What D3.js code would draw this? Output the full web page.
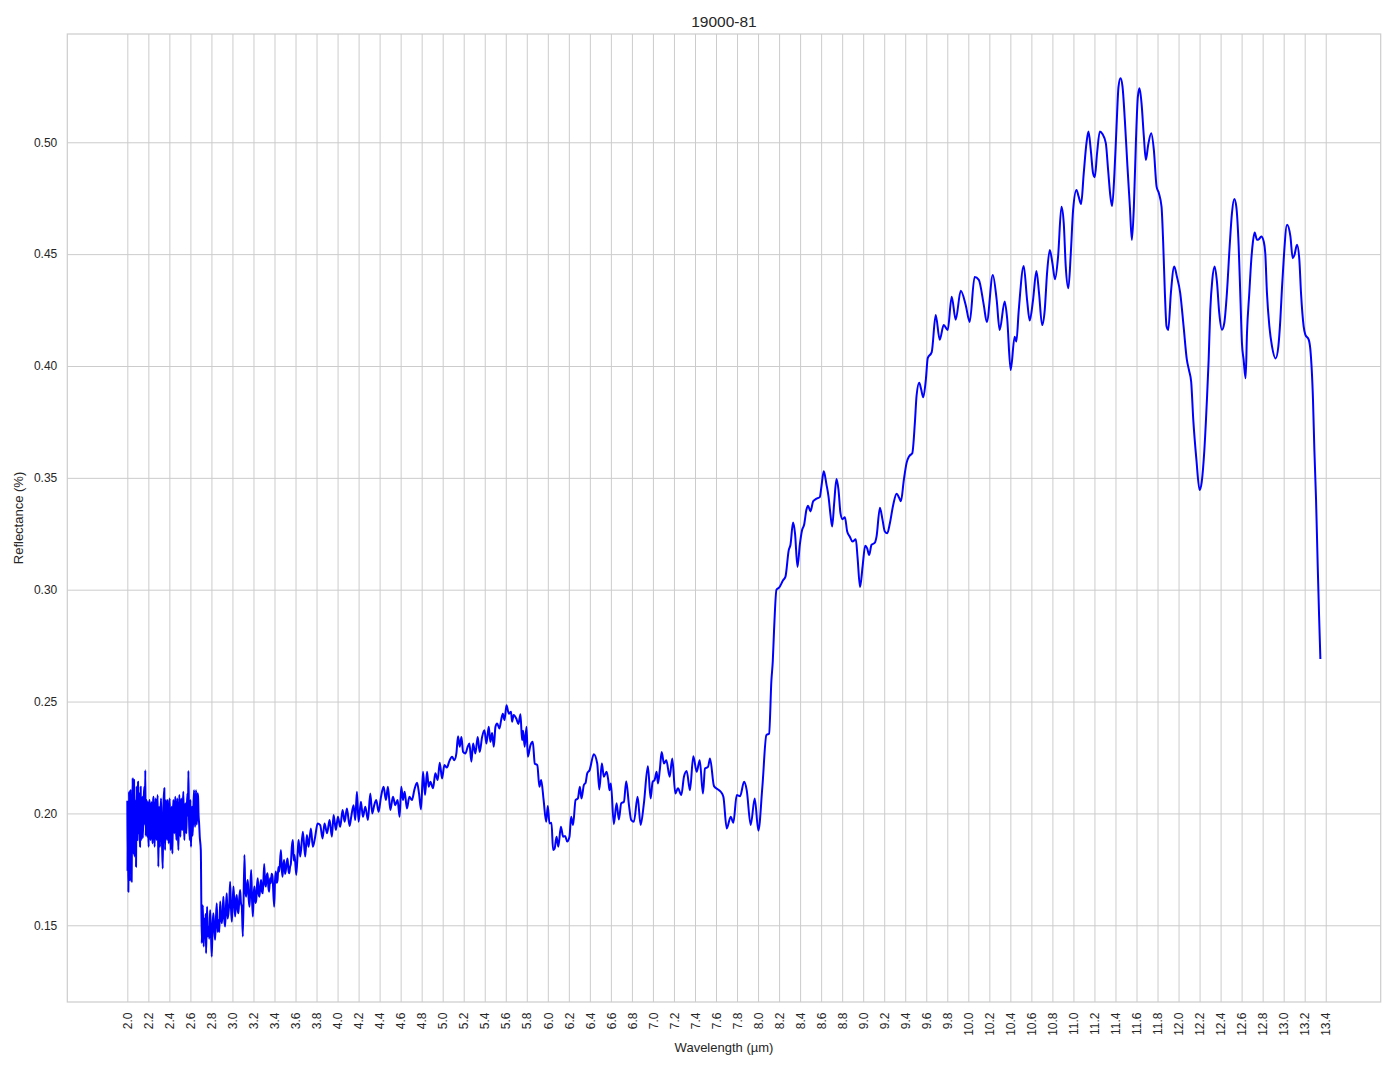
<!DOCTYPE html>
<html>
<head>
<meta charset="utf-8">
<script src="https://cdn.jsdelivr.net/npm/d3@7/dist/d3.min.js"></script>
<style>
  html, body { margin: 0; padding: 0; background: #ffffff; }
  svg { display: block; font-family: "Liberation Sans", Arial, "DejaVu Sans", sans-serif; }
</style>
</head>
<body>
<svg id="chart" width="1394" height="1069"></svg>
<script>
// ---------------- DATA ----------------
const chartTitle = "19000-81";
const xLabel = "Wavelength (µm)";
const yLabel = "Reflectance (%)";

const xTicks = [2.0, 2.2, 2.4, 2.6, 2.8, 3.0, 3.2, 3.4, 3.6, 3.8, 4.0, 4.2, 4.4, 4.6, 4.8, 5.0, 5.2, 5.4, 5.6, 5.8,
  6.0, 6.2, 6.4, 6.6, 6.8, 7.0, 7.2, 7.4, 7.6, 7.8, 8.0, 8.2, 8.4, 8.6, 8.8, 9.0, 9.2, 9.4, 9.6, 9.8,
  10.0, 10.2, 10.4, 10.6, 10.8, 11.0, 11.2, 11.4, 11.6, 11.8, 12.0, 12.2, 12.4, 12.6, 12.8, 13.0, 13.2, 13.4];
const yTicks = [0.15, 0.20, 0.25, 0.30, 0.35, 0.40, 0.45, 0.50];

// spectrum pieces: [wavelength (µm), reflectance]
const spectrum2_0to2_7 = [
  [2.000,0.2052],[2.002,0.1740],[2.003,0.1940],[2.006,0.1900],[2.010,0.1650],[2.013,0.1880],[2.016,0.2097],[2.019,0.1950],
  [2.022,0.1702],[2.025,0.2000],[2.029,0.2104],[2.032,0.1880],[2.035,0.1732],[2.038,0.1960],[2.041,0.1695],[2.046,0.2020],
  [2.051,0.2156],[2.054,0.1960],[2.057,0.1821],[2.060,0.2050],[2.064,0.2149],[2.067,0.1900],[2.070,0.1807],[2.073,0.2040],
  [2.076,0.1940],[2.080,0.2060],[2.083,0.1762],[2.086,0.1990],[2.089,0.2119],[2.092,0.1940],[2.095,0.1881],[2.098,0.2070],
  [2.102,0.2141],[2.105,0.1930],[2.108,0.1911],[2.111,0.2050],[2.114,0.2089],[2.117,0.1900],[2.121,0.1851],[2.124,0.2030],
  [2.127,0.2119],[2.130,0.1960],[2.133,0.1881],[2.138,0.2010],[2.143,0.2074],[2.147,0.1890],[2.152,0.1985],[2.157,0.2080],
  [2.162,0.2119],[2.166,0.1950],[2.171,0.2193],[2.175,0.1900],[2.178,0.1955],[2.181,0.2030],[2.184,0.2060],[2.187,0.1920],
  [2.191,0.1896],[2.194,0.2050],[2.197,0.2030],[2.200,0.1900],[2.203,0.1851],[2.208,0.2040],[2.213,0.2060],[2.217,0.1910],
  [2.222,0.1881],[2.227,0.2050],[2.232,0.2037],[2.236,0.1900],[2.241,0.1866],[2.246,0.2060],[2.251,0.2074],[2.255,0.1920],
  [2.260,0.1851],[2.265,0.2000],[2.270,0.2067],[2.274,0.1930],[2.279,0.1881],[2.284,0.2030],[2.289,0.2082],[2.295,0.1762],
  [2.302,0.2030],[2.306,0.1960],[2.311,0.1851],[2.316,0.2010],[2.321,0.2067],[2.325,0.1930],[2.330,0.1866],[2.337,0.1754],
  [2.343,0.2030],[2.352,0.2112],[2.355,0.1950],[2.359,0.1836],[2.363,0.2000],[2.368,0.2060],[2.373,0.1940],[2.378,0.1881],
  [2.381,0.2020],[2.384,0.2060],[2.389,0.1920],[2.394,0.1866],[2.398,0.2000],[2.403,0.2067],[2.408,0.1930],[2.413,0.1836],
  [2.417,0.1980],[2.422,0.2030],[2.426,0.1900],[2.429,0.1821],[2.433,0.1990],[2.438,0.2060],[2.443,0.1960],[2.448,0.1911],
  [2.452,0.2030],[2.457,0.2074],[2.462,0.1940],[2.467,0.1881],[2.471,0.2010],[2.476,0.2067],[2.481,0.1920],[2.486,0.1836],
  [2.490,0.1990],[2.495,0.2082],[2.500,0.1960],[2.505,0.1896],[2.509,0.2020],[2.514,0.2067],[2.519,0.1950],[2.524,0.1926],
  [2.528,0.2040],[2.533,0.2097],[2.538,0.1950],[2.543,0.1881],[2.547,0.1990],[2.552,0.2045],[2.557,0.1940],[2.562,0.1911],
  [2.567,0.2040],[2.572,0.2089],[2.577,0.1990],[2.581,0.2190],[2.587,0.1970],[2.594,0.1881],[2.597,0.1990],[2.600,0.2060],
  [2.603,0.1930],[2.606,0.1851],[2.611,0.1990],[2.616,0.2030],[2.620,0.1900],[2.625,0.1955],[2.630,0.2050],[2.635,0.2104],
  [2.640,0.1980],[2.645,0.1940],[2.650,0.2060],[2.654,0.2104],[2.659,0.1950],[2.664,0.1985],[2.668,0.2090],[2.673,0.2074],
  [2.678,0.1990],[2.683,0.1955],[2.689,0.1896],[2.699,0.1836]
];
const spectrum2_7to3_6 = [
  [2.708,0.1420],[2.713,0.1520],[2.718,0.1590],[2.722,0.1480],[2.727,0.1405],[2.733,0.1530],[2.740,0.1472],[2.745,0.1550],
  [2.749,0.1375],[2.754,0.1500],[2.759,0.1583],[2.765,0.1450],[2.772,0.1494],[2.780,0.1440],[2.787,0.1568],[2.795,0.1480],
  [2.803,0.1360],[2.811,0.1500],[2.819,0.1554],[2.827,0.1480],[2.835,0.1435],[2.843,0.1530],[2.851,0.1598],[2.859,0.1470],
  [2.867,0.1524],[2.875,0.1470],[2.883,0.1606],[2.891,0.1540],[2.899,0.1509],[2.907,0.1560],[2.914,0.1628],[2.922,0.1530],
  [2.930,0.1494],[2.938,0.1580],[2.946,0.1643],[2.954,0.1530],[2.962,0.1554],[2.970,0.1600],[2.978,0.1695],[2.986,0.1580],
  [2.994,0.1516],[3.002,0.1600],[3.010,0.1673],[3.018,0.1590],[3.026,0.1539],[3.033,0.1610],[3.041,0.1635],[3.049,0.1570],
  [3.057,0.1554],[3.065,0.1620],[3.073,0.1658],[3.081,0.1600],[3.089,0.1583],[3.099,0.1450],[3.114,0.1814],[3.122,0.1660],
  [3.130,0.1628],[3.138,0.1680],[3.146,0.1702],[3.154,0.1620],[3.162,0.1583],[3.170,0.1660],[3.178,0.1747],[3.186,0.1620],
  [3.194,0.1539],[3.202,0.1640],[3.210,0.1673],[3.218,0.1600],[3.226,0.1613],[3.234,0.1680],[3.241,0.1710],[3.249,0.1640],
  [3.257,0.1628],[3.265,0.1680],[3.273,0.1702],[3.281,0.1650],[3.289,0.1643],[3.302,0.1774],[3.310,0.1690],[3.318,0.1673],
  [3.326,0.1720],[3.334,0.1732],[3.342,0.1670],[3.349,0.1650],[3.357,0.1710],[3.365,0.1688],[3.373,0.1730],[3.381,0.1717],
  [3.397,0.1583],[3.405,0.1700],[3.413,0.1740],[3.421,0.1690],[3.429,0.1702],[3.437,0.1760],[3.445,0.1740],[3.461,0.1836],
  [3.468,0.1760],[3.476,0.1717],[3.484,0.1770],[3.492,0.1792],[3.500,0.1730],[3.508,0.1747],[3.516,0.1780],[3.524,0.1799],
  [3.532,0.1750],[3.540,0.1732],[3.548,0.1760],[3.556,0.1777],[3.565,0.1851],[3.575,0.1881],[3.583,0.1790],[3.591,0.1814],
  [3.607,0.1725],[3.622,0.1836]
];
const spectrum3_6to5_6 = [
  [3.629,0.1881],[3.645,0.1807],[3.670,0.1918],[3.692,0.1807],[3.708,0.1903],[3.724,0.1851],[3.746,0.1933],[3.765,0.1851],
  [3.787,0.1896],[3.810,0.1955],[3.835,0.1948],[3.857,0.1888],[3.876,0.1955],[3.900,0.1911],[3.924,0.1970],[3.946,0.1896],
  [3.962,0.1993],[3.984,0.1926],[4.003,0.1985],[4.025,0.1940],[4.048,0.2015],[4.067,0.1963],[4.089,0.2022],[4.114,0.1944],
  [4.130,0.1985],[4.152,0.2037],[4.168,0.1970],[4.184,0.2097],[4.200,0.1963],[4.222,0.2052],[4.241,0.1985],[4.264,0.2030],
  [4.289,0.1970],[4.311,0.2089],[4.330,0.2000],[4.349,0.2037],[4.368,0.2060],[4.390,0.2007],[4.413,0.2074],[4.438,0.2119],
  [4.460,0.2060],[4.479,0.2119],[4.502,0.2015],[4.527,0.2074],[4.549,0.2037],[4.571,0.2060],[4.590,0.1985],[4.606,0.2119],
  [4.622,0.2060],[4.638,0.2097],[4.660,0.2022],[4.683,0.2074],[4.708,0.2060],[4.730,0.2104],[4.756,0.2137],[4.775,0.2089],
  [4.794,0.2018],[4.813,0.2186],[4.832,0.2082],[4.851,0.2186],[4.867,0.2119],[4.883,0.2141],[4.908,0.2112],[4.930,0.2179],
  [4.952,0.2149],[4.972,0.2226],[4.994,0.2156],[5.016,0.2216],[5.040,0.2205],[5.064,0.2235],[5.089,0.2253],[5.111,0.2238],
  [5.130,0.2268],[5.146,0.2345],[5.162,0.2298],[5.178,0.2342],[5.194,0.2275],[5.216,0.2268],[5.238,0.2298],[5.254,0.2312],
  [5.273,0.2231],[5.289,0.2312],[5.311,0.2268],[5.333,0.2342],[5.352,0.2275],[5.375,0.2342],[5.397,0.2372],[5.416,0.2312],
  [5.438,0.2387],[5.454,0.2320],[5.470,0.2360],[5.486,0.2298],[5.502,0.2387],[5.518,0.2402],[5.540,0.2380],[5.556,0.2417],
  [5.572,0.2446],[5.588,0.2417],[5.607,0.2484],[5.629,0.2446]
];
const spectrum5_6to8_2 = [
  [5.650,0.2454],[5.660,0.2410],[5.675,0.2440],[5.700,0.2424],[5.720,0.2400],[5.740,0.2443],[5.755,0.2327],[5.765,0.2370],
  [5.780,0.2298],[5.797,0.2387],[5.810,0.2253],[5.835,0.2305],[5.857,0.2320],[5.876,0.2223],[5.900,0.2216],[5.920,0.2119],
  [5.937,0.2149],[5.960,0.2060],[5.984,0.1963],[6.000,0.2033],[6.016,0.1955],[6.035,0.1958],[6.050,0.1836],[6.065,0.1843],
  [6.083,0.1896],[6.100,0.1851],[6.124,0.1940],[6.146,0.1896],[6.165,0.1899],[6.184,0.1874],[6.206,0.1896],[6.222,0.1985],
  [6.240,0.1948],[6.264,0.2060],[6.286,0.2067],[6.305,0.2119],[6.320,0.2067],[6.343,0.2127],[6.360,0.2138],[6.375,0.2179],
  [6.397,0.2193],[6.438,0.2265],[6.470,0.2223],[6.490,0.2107],[6.514,0.2223],[6.533,0.2164],[6.559,0.2186],[6.575,0.2149],
  [6.587,0.2104],[6.600,0.2134],[6.628,0.1952],[6.654,0.2045],[6.676,0.1973],[6.698,0.2045],[6.724,0.2052],[6.746,0.2144],
  [6.772,0.2037],[6.794,0.1970],[6.819,0.1963],[6.854,0.2074],[6.883,0.1948],[6.914,0.2045],[6.952,0.2211],[6.978,0.2067],
  [6.997,0.2141],[7.016,0.2149],[7.035,0.2186],[7.048,0.2134],[7.065,0.2193],[7.083,0.2274],[7.105,0.2223],[7.127,0.2238],
  [7.159,0.2164],[7.184,0.2246],[7.213,0.2089],[7.238,0.2112],[7.270,0.2082],[7.295,0.2164],[7.321,0.2190],[7.352,0.2104],
  [7.384,0.2256],[7.416,0.2186],[7.445,0.2238],[7.476,0.2089],[7.495,0.2201],[7.524,0.2208],[7.543,0.2246],[7.581,0.2122],
  [7.619,0.2107],[7.645,0.2097],[7.670,0.2074],[7.702,0.1933],[7.740,0.1985],[7.765,0.1958],[7.797,0.2082],[7.829,0.2077],
  [7.867,0.2141],[7.892,0.2104],[7.930,0.1948],[7.968,0.2067],[8.003,0.1923],[8.041,0.2119],[8.079,0.2350],[8.105,0.2357],
  [8.127,0.2595],[8.140,0.2680],[8.152,0.2817],[8.175,0.3000]
];
const spectrum8_2to9_6 = [
  [8.200,0.3009],[8.238,0.3042],[8.260,0.3057],[8.292,0.3177],[8.308,0.3200],[8.333,0.3300],[8.352,0.3250],[8.375,0.3102],
  [8.397,0.3200],[8.419,0.3267],[8.438,0.3290],[8.460,0.3357],[8.476,0.3375],[8.498,0.3350],[8.524,0.3395],[8.549,0.3405],
  [8.587,0.3414],[8.603,0.3462],[8.625,0.3529],[8.651,0.3470],[8.670,0.3417],[8.689,0.3335],[8.705,0.3282],[8.724,0.3387],
  [8.746,0.3495],[8.765,0.3447],[8.784,0.3342],[8.803,0.3315],[8.826,0.3324],[8.848,0.3260],[8.873,0.3237],[8.898,0.3215],
  [8.930,0.3225],[8.946,0.3147],[8.970,0.3012],[8.994,0.3102],[9.019,0.3197],[9.038,0.3185],[9.057,0.3155],[9.079,0.3200],
  [9.111,0.3210],[9.127,0.3237],[9.159,0.3366],[9.184,0.3312],[9.206,0.3260],[9.229,0.3252],[9.254,0.3297],[9.286,0.3380],
  [9.318,0.3429],[9.343,0.3410],[9.359,0.3395],[9.387,0.3492],[9.413,0.3567],[9.438,0.3597],[9.467,0.3610],[9.492,0.3748],
  [9.508,0.3868],[9.533,0.3925],[9.552,0.3895],[9.571,0.3860],[9.597,0.3943]
];
const spectrum9_6to10_3 = [
  [9.614,0.4035],[9.652,0.4062],[9.690,0.4228],[9.728,0.4117],[9.766,0.4183],[9.804,0.4161],[9.842,0.4310],[9.880,0.4207],
  [9.928,0.4336],[9.975,0.4273],[10.013,0.4197],[10.060,0.4398],[10.100,0.4385],[10.147,0.4273],[10.176,0.4197],[10.233,0.4407],
  [10.270,0.4295]
];
const spectrum10_3to12_6 = [
  [10.298,0.4161],[10.346,0.4288],[10.370,0.4210],[10.403,0.3982],[10.441,0.4131],[10.457,0.4109],[10.480,0.4250],[10.527,0.4447],
  [10.559,0.4296],[10.584,0.4203],[10.616,0.4296],[10.648,0.4425],[10.673,0.4325],[10.702,0.4183],[10.727,0.4250],[10.749,0.4414],
  [10.775,0.4519],[10.800,0.4460],[10.825,0.4388],[10.854,0.4489],[10.886,0.4712],[10.908,0.4638],[10.927,0.4444],[10.952,0.4347],
  [10.975,0.4504],[10.997,0.4698],[11.029,0.4787],[11.050,0.4757],[11.073,0.4724],[11.098,0.4861],[11.124,0.4996],[11.143,0.5048],
  [11.165,0.4966],[11.187,0.4861],[11.203,0.4844],[11.225,0.4951],[11.251,0.5048],[11.276,0.5037],[11.308,0.4996],[11.330,0.4876],
  [11.352,0.4757],[11.368,0.4715],[11.390,0.4861],[11.410,0.5070],[11.429,0.5249],[11.448,0.5286],[11.467,0.5249],[11.489,0.5100],
  [11.514,0.4891],[11.537,0.4712],[11.556,0.4563],[11.575,0.4712],[11.594,0.4996],[11.613,0.5204],[11.629,0.5241],[11.648,0.5174],
  [11.670,0.5025],[11.689,0.4921],[11.711,0.4988],[11.740,0.5040],[11.765,0.4966],[11.791,0.4802],[11.813,0.4772],[11.838,0.4712],
  [11.854,0.4549],[11.870,0.4325],[11.886,0.4176],[11.902,0.4161],[11.927,0.4326],[11.959,0.4445],[11.984,0.4400],[12.016,0.4326],
  [12.048,0.4177],[12.079,0.4028],[12.100,0.3980],[12.120,0.3930],[12.140,0.3760],[12.170,0.3580],[12.200,0.3446],[12.220,0.3480],
  [12.245,0.3620],[12.270,0.3850],[12.286,0.4024],[12.302,0.4252],[12.321,0.4385],[12.343,0.4445],[12.365,0.4378],[12.387,0.4237],
  [12.413,0.4162],[12.435,0.4192],[12.460,0.4326],[12.486,0.4534],[12.508,0.4683],[12.530,0.4746],[12.549,0.4713],[12.572,0.4534],
  [12.587,0.4326],[12.603,0.4103],[12.619,0.4028],[12.638,0.3945]
];
const spectrum12_6to13_4 = [
  [12.651,0.4147],[12.673,0.4326],[12.692,0.4475],[12.708,0.4557],[12.724,0.4597],[12.746,0.4564],[12.765,0.4567],[12.787,0.4579],
  [12.810,0.4557],[12.825,0.4504],[12.841,0.4326],[12.864,0.4177],[12.889,0.4088],[12.924,0.4034],[12.949,0.4086],[12.968,0.4205],
  [12.984,0.4350],[13.000,0.4475],[13.032,0.4631],[13.064,0.4579],[13.086,0.4482],[13.102,0.4495],[13.127,0.4542],[13.149,0.4475],
  [13.165,0.4326],[13.190,0.4177],[13.206,0.4140],[13.238,0.4118],[13.254,0.4073],[13.279,0.3848],[13.292,0.3625],[13.308,0.3402],
  [13.324,0.3104],[13.337,0.2881],[13.349,0.2695]
];

// ---------------- CHART ----------------
const spectrum = [].concat(spectrum2_0to2_7, spectrum2_7to3_6, spectrum3_6to5_6, spectrum5_6to8_2,
  spectrum8_2to9_6, spectrum9_6to10_3, spectrum10_3to12_6, spectrum12_6to13_4);

const W = 1394, H = 1069;
const plot = { left: 67.3, right: 1380.7, top: 34, bottom: 1002 };
const textColor = "#262626";
const gridColor = "#cccccc";

const svg = d3.select("#chart");
svg.append("rect").attr("width", W).attr("height", H).attr("fill", "#ffffff");

const x = d3.scaleLinear().domain([1.429, 13.923]).range([plot.left, plot.right]);
const y = d3.scaleLinear().domain([0.1157, 0.5484]).range([plot.bottom, plot.top]);

// x axis with vertical grid lines
const xAxisG = svg.append("g")
  .attr("transform", `translate(0,${plot.bottom})`)
  .call(d3.axisBottom(x).tickValues(xTicks).tickFormat(d3.format(".1f"))
    .tickSizeInner(-(plot.bottom - plot.top)).tickSizeOuter(0).tickPadding(0));
xAxisG.select(".domain").remove();
xAxisG.selectAll(".tick line").attr("stroke", gridColor).attr("stroke-width", 1);
xAxisG.selectAll(".tick text")
  .attr("fill", textColor)
  .attr("font-size", "12px")
  .attr("text-anchor", "end")
  .attr("transform", "rotate(-90)")
  .attr("x", -10.5)
  .attr("y", 0)
  .attr("dy", "0.35em");

// y axis with horizontal grid lines
const yAxisG = svg.append("g")
  .attr("transform", `translate(${plot.left},0)`)
  .call(d3.axisLeft(y).tickValues(yTicks).tickFormat(d3.format(".2f"))
    .tickSizeInner(-(plot.right - plot.left)).tickSizeOuter(0).tickPadding(10));
yAxisG.select(".domain").remove();
yAxisG.selectAll(".tick line").attr("stroke", gridColor).attr("stroke-width", 1);
yAxisG.selectAll(".tick text")
  .attr("fill", textColor)
  .attr("font-size", "12px");

// spines
svg.append("rect")
  .attr("x", plot.left).attr("y", plot.top)
  .attr("width", plot.right - plot.left).attr("height", plot.bottom - plot.top)
  .attr("fill", "none").attr("stroke", gridColor).attr("stroke-width", 1.2);

// spectrum line
const line = d3.line()
  .x(d => x(d[0]))
  .y(d => y(d[1]))
  .curve(d3.curveMonotoneX);

svg.append("path")
  .datum(spectrum)
  .attr("d", line)
  .attr("fill", "none")
  .attr("stroke", "#0000ff")
  .attr("stroke-width", 2)
  .attr("stroke-linejoin", "round")
  .attr("stroke-linecap", "square");

// title and labels
svg.append("text")
  .attr("x", (plot.left + plot.right) / 2).attr("y", 26.5)
  .attr("text-anchor", "middle")
  .attr("fill", textColor).attr("font-size", "15.5px")
  .text(chartTitle);

svg.append("text")
  .attr("x", (plot.left + plot.right) / 2).attr("y", 1052)
  .attr("text-anchor", "middle")
  .attr("fill", textColor).attr("font-size", "13px")
  .text(xLabel);

svg.append("text")
  .attr("transform", `translate(23,${(plot.top + plot.bottom) / 2}) rotate(-90)`)
  .attr("text-anchor", "middle")
  .attr("fill", textColor).attr("font-size", "13px")
  .text(yLabel);
</script>
</body>
</html>
